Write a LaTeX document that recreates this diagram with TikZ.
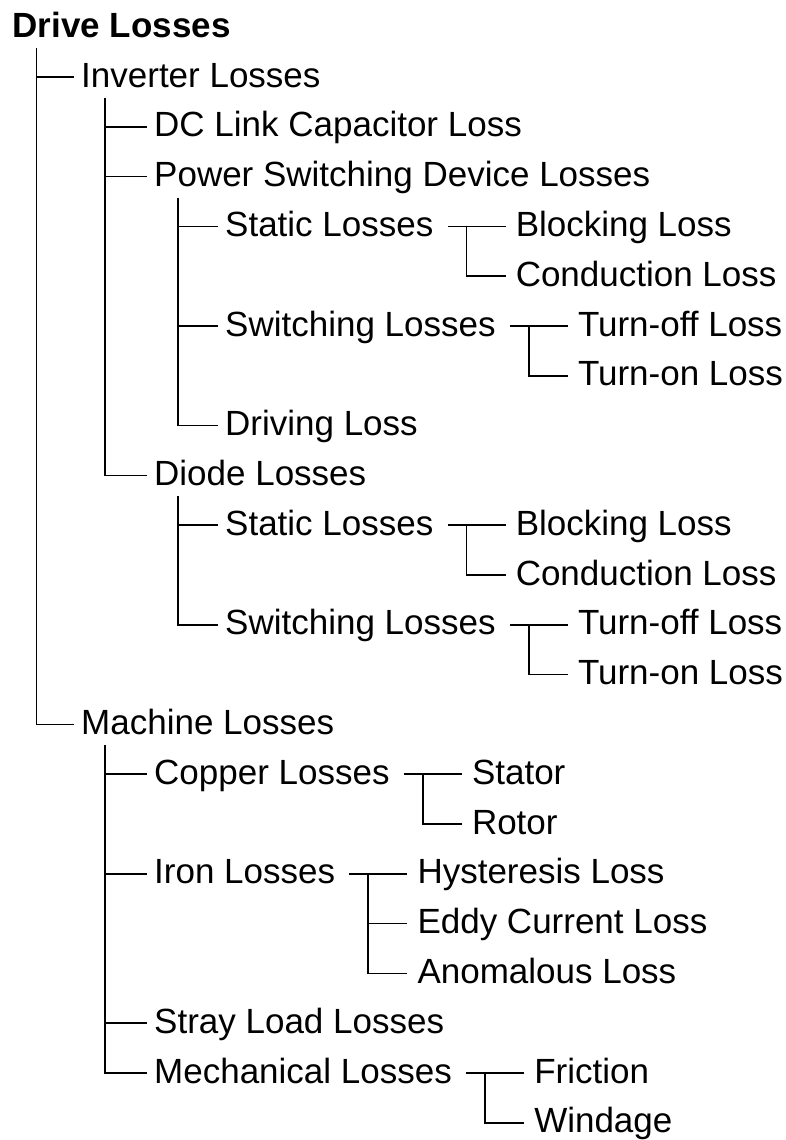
\documentclass[tikz,border=0pt]{standalone}
\usepackage{fontspec}
\setmainfont{Liberation Sans}
\usetikzlibrary{positioning}

\tikzset{
  item/.style={anchor=west, inner sep=0pt, text height=26pt, text depth=6pt,
               font=\fontsize{35}{40}\selectfont},
  title/.style={item, font=\fontsize{35}{40}\selectfont\bfseries},
  tree/.style={line width=1.7pt},
}
\def\dy{49.8pt}

\begin{document}
\begin{tikzpicture}[x=1pt, y=-1pt]
  \useasboundingbox (0,0) rectangle (785,1140);

  % main column
  \node[title] (drive) at (12.5,27.2) {Drive Losses};
  \node[item] (inv)   at (81,77)      {Inverter Losses};
  \node[item] (dcl)   at (154,126.8)  {DC Link Capacitor Loss};
  \node[item] (psd)   at (154,176.6)  {Power Switching Device Losses};
  \node[item] (psdst) at (225,226.4)  {Static Losses};
  \node[item] (psdsw) at (225,326)    {Switching Losses};
  \node[item] (psddr) at (225,425.6)  {Driving Loss};
  \node[item] (dio)   at (154,475.4)  {Diode Losses};
  \node[item] (diost) at (225,525.2)  {Static Losses};
  \node[item] (diosw) at (225,624.8)  {Switching Losses};
  \node[item] (mach)  at (81,724.4)   {Machine Losses};
  \node[item] (cu)    at (154,774.2)  {Copper Losses};
  \node[item] (fe)    at (154,873.8)  {Iron Losses};
  \node[item] (sl)    at (154,1023.2) {Stray Load Losses};
  \node[item] (mech)  at (154,1073)   {Mechanical Losses};

  % side branches
  \node[item, right=82pt of psdst] (psdbl)  {Blocking Loss};
  \node[item, below=\dy of psdbl.west, anchor=west]  (psdco)  {Conduction Loss};
  \node[item, right=82pt of psdsw] (psdoff) {Turn-off Loss};
  \node[item, below=\dy of psdoff.west, anchor=west] (psdon)  {Turn-on Loss};
  \node[item, right=82pt of diost] (diobl)  {Blocking Loss};
  \node[item, below=\dy of diobl.west, anchor=west]  (dioco)  {Conduction Loss};
  \node[item, right=82pt of diosw] (diooff) {Turn-off Loss};
  \node[item, below=\dy of diooff.west, anchor=west] (dioon)  {Turn-on Loss};
  \node[item, right=82pt of cu]    (cust)   {Stator};
  \node[item, below=\dy of cust.west, anchor=west]   (curo)   {Rotor};
  \node[item, right=82pt of fe]    (fehy)   {Hysteresis Loss};
  \node[item, below=\dy of fehy.west, anchor=west]   (feed)   {Eddy Current Loss};
  \node[item, below=\dy of feed.west, anchor=west]   (fean)   {Anomalous Loss};
  \node[item, right=82pt of mech]  (mefr)   {Friction};
  \node[item, below=\dy of mefr.west, anchor=west]   (mewi)   {Windage};

  % spines
  \foreach \p/\z in {drive/mach, inv/dio, psd/psddr, dio/diosw, mach/mech}
    \draw[tree] ([xshift=24pt,yshift=-21pt]\p.west) |- ([xshift=-7pt]\z.west);
  \foreach \p/\c in {drive/inv, inv/dcl, inv/psd, psd/psdst, psd/psdsw, dio/diost, mach/cu, mach/fe, mach/sl}
    \draw[tree] ([xshift=24pt]\p.west |- \c.west) -- ([xshift=-7pt]\c.west);

  % forks
  \foreach \p/\a/\z in {psdst/psdbl/psdco, psdsw/psdoff/psdon, diost/diobl/dioco,
                        diosw/diooff/dioon, cu/cust/curo, fe/fehy/fean, mech/mefr/mewi} {
    \draw[tree] ([xshift=14pt]\p.east) -- ([xshift=-10pt]\a.west);
    \draw[tree] ([xshift=33pt]\p.east) |- ([xshift=-10pt]\z.west);
  }
  \draw[tree] ([xshift=33pt]fe.east |- feed.west) -- ([xshift=-10pt]feed.west);
\end{tikzpicture}
\end{document}
